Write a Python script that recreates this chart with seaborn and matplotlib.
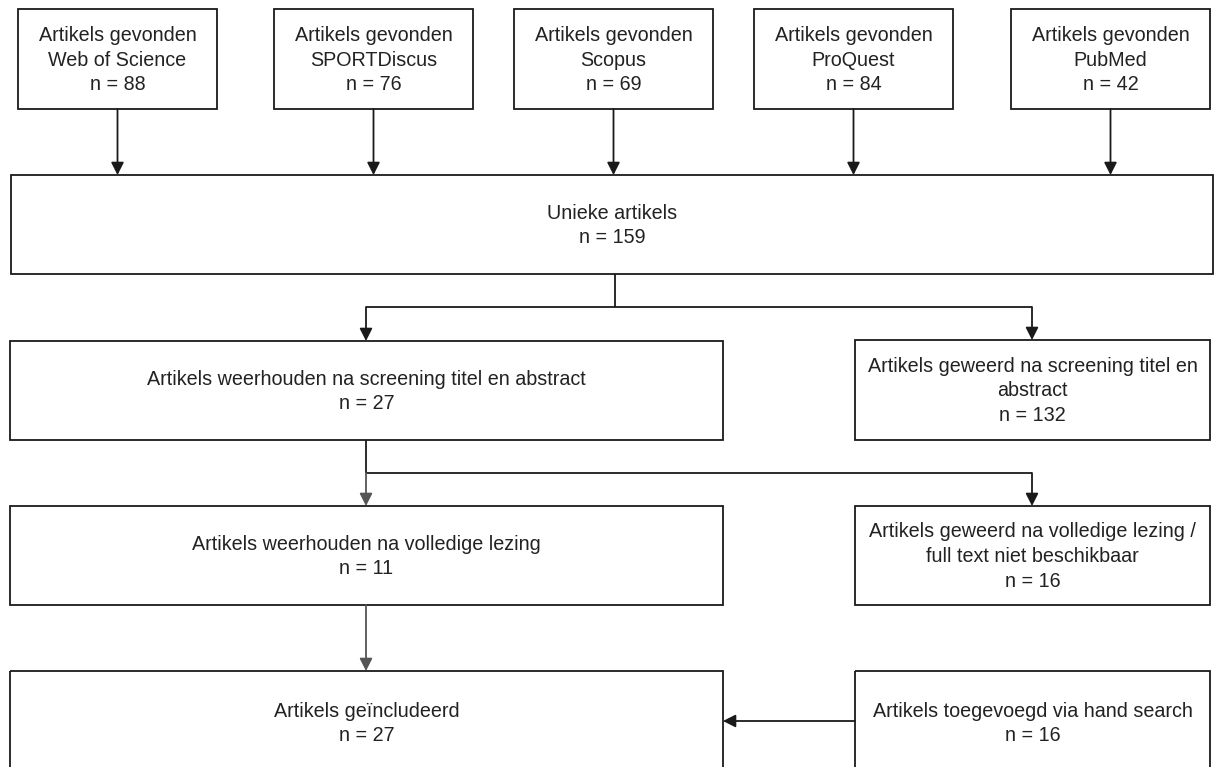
import seaborn as sns
import matplotlib.pyplot as plt
from matplotlib.patches import Rectangle

# ---- data ----
bronnen = ['Web of Science', 'SPORTDiscus', 'Scopus', 'ProQuest', 'PubMed']
bron_n = [88, 76, 69, 84, 42]

stappen = ['Unieke artikels',
           'Artikels weerhouden na screening titel en abstract',
           'Artikels weerhouden na volledige lezing',
           'Artikels geïncludeerd']
stap_n = [159, 27, 11, 27]

zijtak = ['Artikels geweerd na screening titel en\nabstract',
          'Artikels geweerd na volledige lezing /\nfull text niet beschikbaar',
          'Artikels toegevoegd via hand search']
zijtak_n = [132, 16, 16]

sns.set_style('white')
plt.rcParams['font.family'] = ['Liberation Sans', 'DejaVu Sans']

fig = plt.figure(figsize=(12.15, 7.67), dpi=100)
ax = fig.add_axes([0, 0, 1, 1])
ax.set_xlim(0, 1215)
ax.set_ylim(767, 0)
ax.axis('off')

LC = '#1a1a1a'
FS = 14.2


def box(x0, y0, x1, y1, text):
    ax.add_patch(Rectangle((x0, y0), x1 - x0, y1 - y0, fill=False,
                           edgecolor=LC, lw=1.3))
    ax.text((x0 + x1) / 2, (y0 + y1) / 2 + 1, text, ha='center', va='center',
            fontsize=FS, color='#222222', linespacing=1.38)


def line(xs, ys, color=LC):
    ax.plot(xs, ys, color=color, lw=1.3, solid_capstyle='butt')


def arrow(x0, y0, x1, y1, color=LC):
    ax.annotate('', xy=(x1, y1), xytext=(x0, y0),
                arrowprops=dict(arrowstyle='-|>,head_length=0.75,head_width=0.38',
                                color=color, lw=1.3, shrinkA=0, shrinkB=0))


# top row: sources
top_x = [18, 274, 514, 754, 1011]
for x0, naam, n in zip(top_x, bronnen, bron_n):
    box(x0, 9, x0 + 199, 109, f'Artikels gevonden\n{naam}\nn = {n}')
    xm = x0 + 99.5
    arrow(xm, 109, xm, 175)

# main column (last box runs past the bottom edge)
main_rows = [(11, 175, 1213, 274), (10, 341, 723, 440),
             (10, 506, 723, 605), (10, 671, 723, 774)]
for (x0, y0, x1, y1), s, n in zip(main_rows, stappen, stap_n):
    box(x0, y0, x1, y1, f'{s}\nn = {n}')

side_rows = [(855, 340, 1210, 440), (855, 506, 1210, 605), (855, 671, 1210, 774)]
for (x0, y0, x1, y1), s, n in zip(side_rows, zijtak, zijtak_n):
    box(x0, y0, x1, y1, f'{s}\nn = {n}')

# connectors
line([615, 615], [274, 307])
line([366, 1032], [307, 307])
arrow(366, 307, 366, 341)
arrow(1032, 307, 1032, 340)

line([366, 366], [440, 473])
line([366, 1032], [473, 473])
arrow(366, 473, 366, 506, color='#555555')
arrow(1032, 473, 1032, 506)

arrow(366, 605, 366, 671, color='#555555')
arrow(855, 721, 723, 721)

fig.savefig('out.png', dpi=100)
